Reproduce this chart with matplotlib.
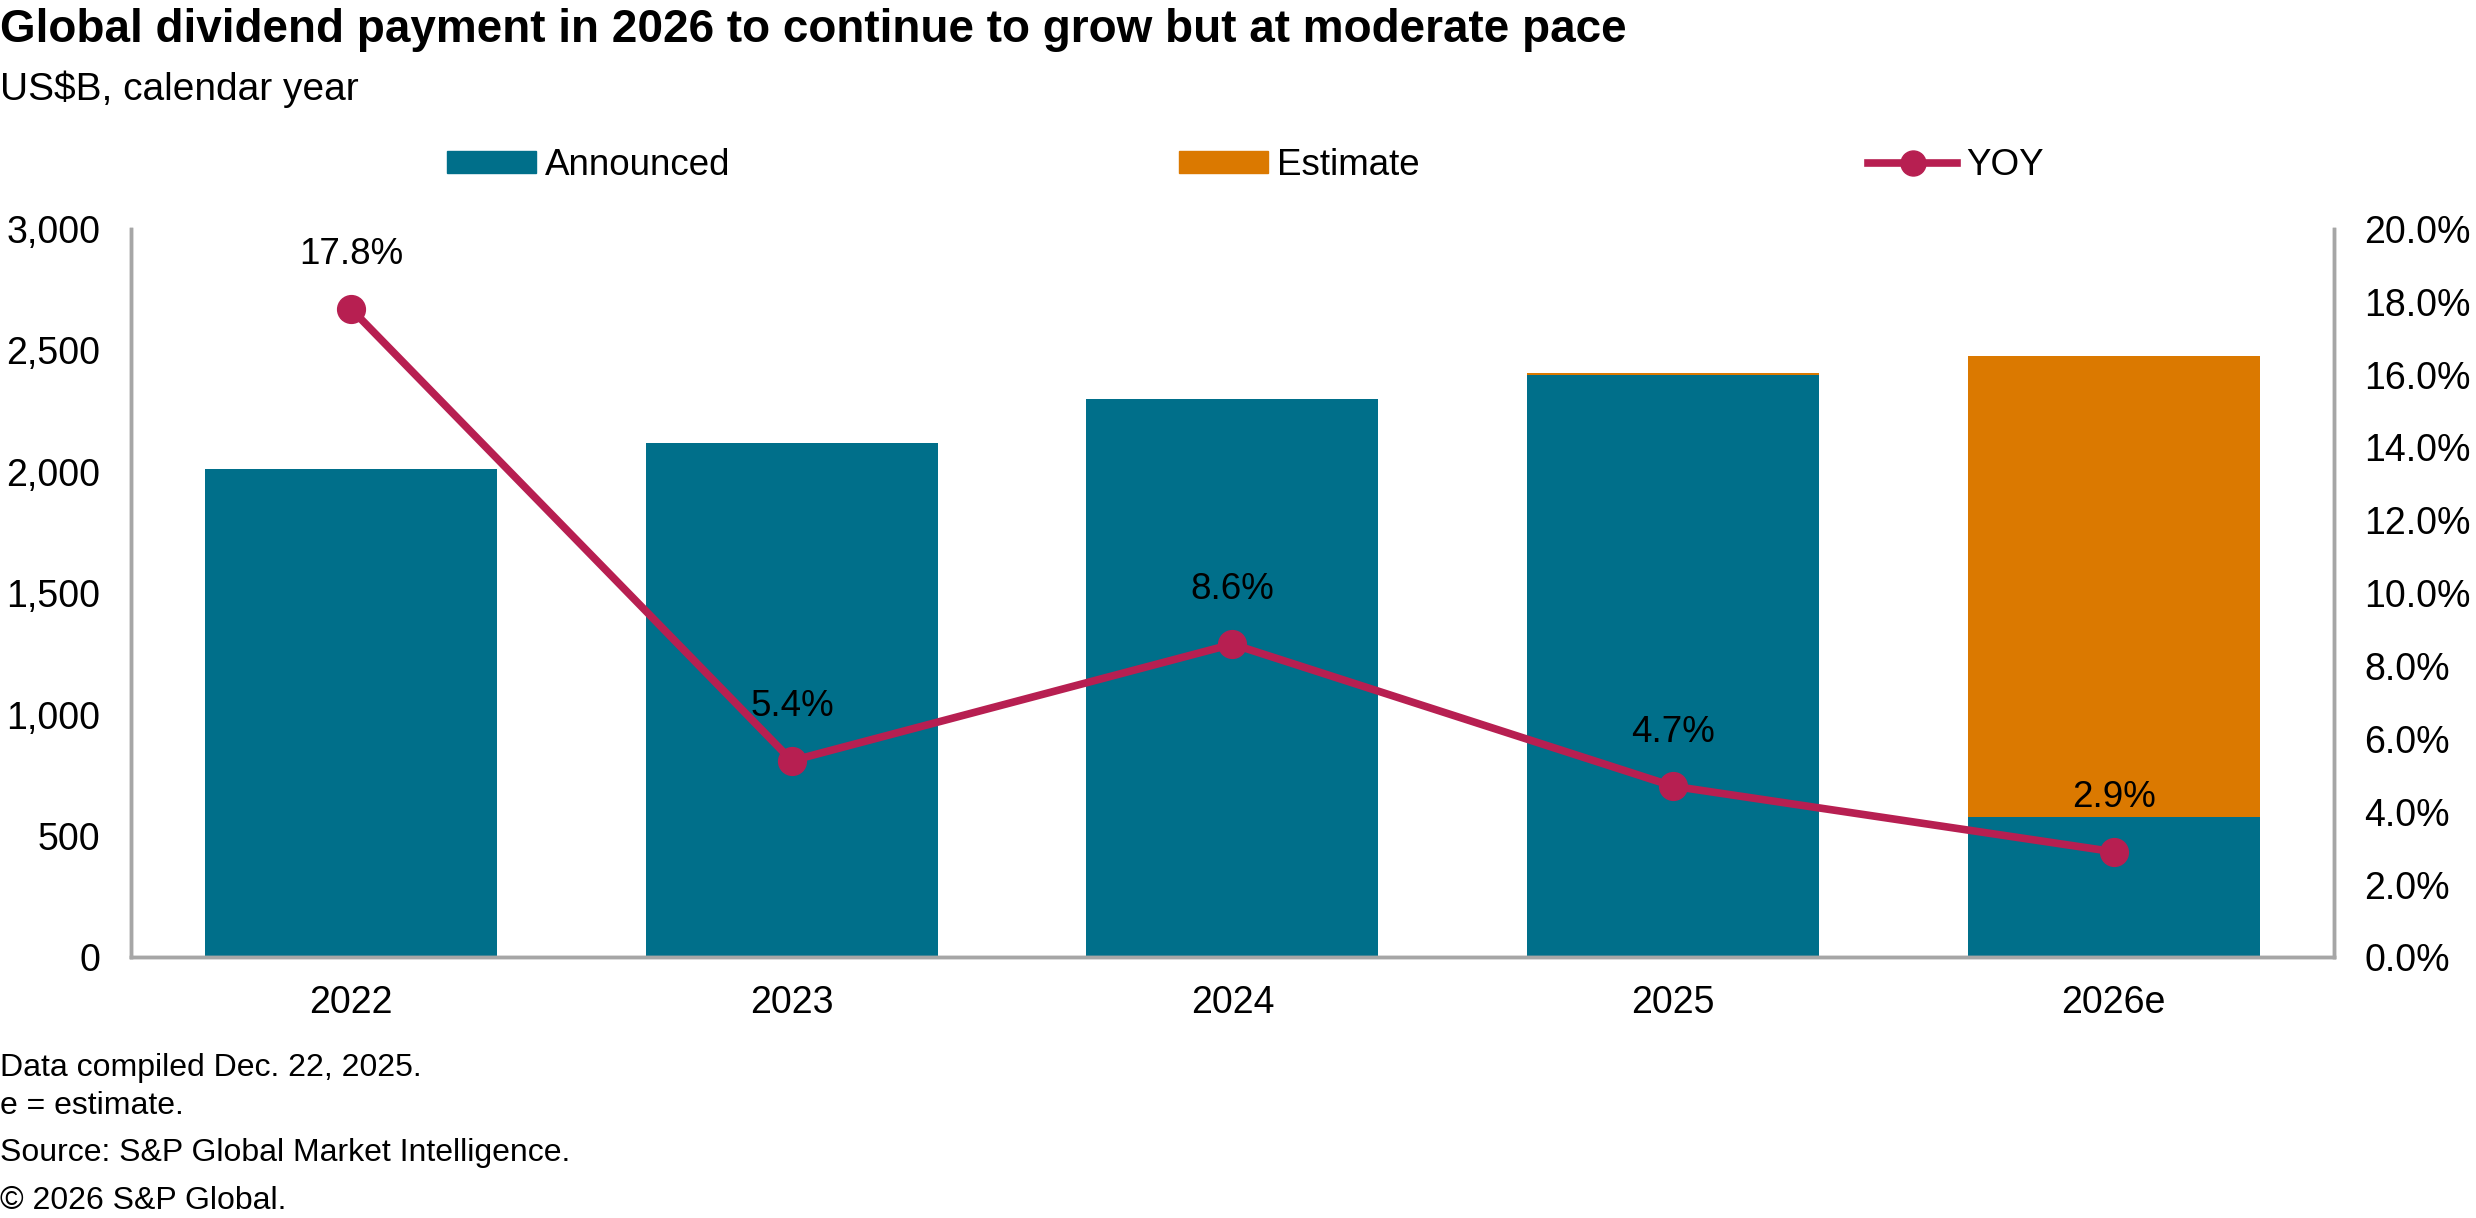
import matplotlib
matplotlib.use('Agg')
import matplotlib.pyplot as plt
from matplotlib.patches import Patch
from matplotlib.lines import Line2D
from matplotlib.ticker import FuncFormatter, MultipleLocator

plt.rcParams['font.family'] = ['Liberation Sans', 'DejaVu Sans']

# data (US$B)
years = ['2022', '2023', '2024', '2025', '2026e']
announced = [2010, 2118, 2300, 2400, 579]
estimate = [0, 0, 0, 8, 1899]
yoy = [17.8, 5.4, 8.6, 4.7, 2.9]

TEAL = '#006F8A'
ORANGE = '#DB7900'
CRIMSON = '#B71F51'
GRAY = '#A6A6A6'

fig = plt.figure(figsize=(24.76, 12.18), dpi=100)
ax = fig.add_axes([0.0529, 0.214, 0.8897, 0.598])
ax2 = ax.twinx()

x = range(len(years))
ax.bar(x, announced, width=0.663, color=TEAL, zorder=2)
ax.bar(x, estimate, width=0.663, bottom=announced, color=ORANGE, zorder=2)

ax2.plot(x, yoy, color=CRIMSON, lw=5.5, marker='o', ms=20, zorder=3)
for i, v in enumerate(yoy):
    ax2.annotate('{:.1f}%'.format(v), (i, v), xytext=(0, 39), textcoords='offset points',
                 ha='center', va='center', fontsize=26.5)

ax.set_xlim(-0.5, 4.5)
ax.set_ylim(0, 3000)
ax2.set_ylim(0, 20)
ax.yaxis.set_major_locator(MultipleLocator(500))
ax2.yaxis.set_major_locator(MultipleLocator(2))
ax.yaxis.set_major_formatter(FuncFormatter(lambda v, p: '{:,.0f}'.format(v)))
ax2.yaxis.set_major_formatter(FuncFormatter(lambda v, p: '{:.1f}%'.format(v)))
ax.set_xticks(list(x))
ax.set_xticklabels(years)

for a in (ax, ax2):
    a.spines['top'].set_visible(False)
    for s in ('left', 'right', 'bottom'):
        a.spines[s].set_color(GRAY)
        a.spines[s].set_linewidth(2.5)
    a.tick_params(length=0, labelsize=27)
ax.tick_params(axis='y', pad=22)
ax.tick_params(axis='x', pad=20)
ax2.tick_params(axis='y', pad=22)

handles = [Patch(color=TEAL), Patch(color=ORANGE),
           Line2D([], [], color=CRIMSON, lw=5.5, marker='o', ms=18)]
fig.legend(handles, ['Announced', 'Estimate', 'YOY'], loc='center', bbox_to_anchor=(0.503, 0.864),
           ncol=3, frameon=False, fontsize=26.5, handlelength=2.4, handleheight=0.55,
           handletextpad=0.25, columnspacing=12.2)

fig.text(0.0, 0.975, 'Global dividend payment in 2026 to continue to grow but at moderate pace',
         fontsize=33, fontweight='bold', va='center', ha='left')
fig.text(0.0, 0.927, 'US$B, calendar year', fontsize=28, va='center', ha='left')

notes = ['Data compiled Dec. 22, 2025.', 'e = estimate.', 'Source: S&P Global Market Intelligence.',
         '\u00a9 2026 S&P Global.']
for t, yy in zip(notes, [0.123, 0.092, 0.053, 0.014]):
    fig.text(0.0, yy, t, fontsize=23, va='center', ha='left')

fig.savefig('out.png', dpi=100)
